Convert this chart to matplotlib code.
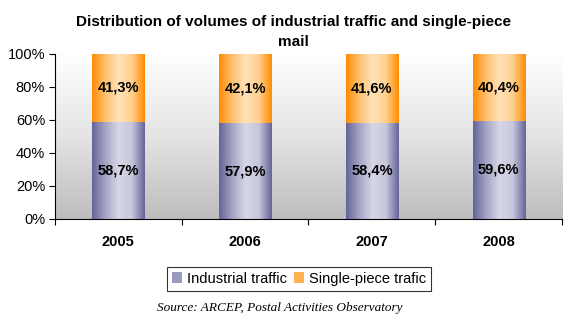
import numpy as np
import matplotlib
matplotlib.use("Agg")
import matplotlib.pyplot as plt
from matplotlib.colors import LinearSegmentedColormap
from matplotlib.patches import Patch

years = ["2005", "2006", "2007", "2008"]
industrial = [58.7, 57.9, 58.4, 59.6]
single_piece = [41.3, 42.1, 41.6, 40.4]
series_names = ["Industrial traffic", "Single-piece trafic"]

plt.rcParams['font.family'] = ['Liberation Sans', 'DejaVu Sans']

fig = plt.figure(figsize=(5.65, 3.21), dpi=100)
ax = fig.add_axes([0.097, 0.318, 0.898, 0.514])

x = np.arange(len(years))
ax.set_xlim(-0.5, len(years) - 0.5)
ax.set_ylim(0, 100)

# background gradient, white at top to grey at bottom
bg = LinearSegmentedColormap.from_list("bg", ["#bdbdbd", "#e4e4e4", "#ffffff"])
grad = np.linspace(0, 1, 256).reshape(-1, 1)
ax.imshow(grad, cmap=bg, extent=(-0.5, len(years) - 0.5, 0, 100),
          origin="lower", aspect="auto", zorder=0)

# cylinder-like horizontal gradients for the bars
ind_cmap = LinearSegmentedColormap.from_list(
    "ind", ["#64649a", "#a4a4c4", "#d6d6e6", "#c8c8dc", "#64649a"])
sp_cmap = LinearSegmentedColormap.from_list(
    "sp", ["#ff8c00", "#ffc070", "#ffe2b8", "#ffd090", "#ff8c00"])
hgrad = np.linspace(0, 1, 256).reshape(1, -1)

width = 0.41
b1 = ax.bar(x, industrial, width, color="none", zorder=2)
b2 = ax.bar(x, single_piece, width, bottom=industrial, color="none", zorder=2)

for bars, cmap in ((b1, ind_cmap), (b2, sp_cmap)):
    for p in bars:
        x0, y0 = p.get_x(), p.get_y()
        im = ax.imshow(hgrad, cmap=cmap, aspect="auto", zorder=2,
                       extent=(x0, x0 + p.get_width(), y0, y0 + p.get_height()))
        im.set_clip_path(p)

for i in range(len(years)):
    ax.text(x[i], industrial[i] / 2, f"{industrial[i]:.1f}%".replace(".", ","),
            ha="center", va="center", fontsize=10.5, fontweight="bold", zorder=3)
    ax.text(x[i], industrial[i] + single_piece[i] / 2,
            f"{single_piece[i]:.1f}%".replace(".", ","),
            ha="center", va="center", fontsize=10.5, fontweight="bold", zorder=3)

ax.set_xlim(-0.5, len(years) - 0.5)
ax.set_ylim(0, 100)
ax.set_yticks(np.arange(0, 101, 20))
ax.set_yticklabels([f"{v}%" for v in range(0, 101, 20)], fontsize=10.5)
ax.set_xticks(np.arange(-0.5, len(years), 1))
ax.set_xticklabels([])
ax.tick_params(axis="y", length=4, width=0.8, pad=3)
ax.tick_params(axis="x", length=4, width=0.8)
for i, yr in enumerate(years):
    ax.text(x[i], -14, yr, ha="center", va="center", fontsize=10.5,
            fontweight="bold")

for s in ("top", "right"):
    ax.spines[s].set_visible(False)
ax.spines["left"].set_linewidth(0.8)
ax.spines["bottom"].set_linewidth(0.8)

fig.text(0.519, 0.9, "Distribution of volumes of industrial traffic and single-piece\nmail",
         ha="center", va="center", fontsize=11, fontweight="bold", linespacing=1.5)

handles = [Patch(facecolor="#9a9ac0", edgecolor="none"),
           Patch(facecolor="#ffb050", edgecolor="none")]
leg = fig.legend(handles, series_names, loc="center", bbox_to_anchor=(0.529, 0.131),
                 ncol=2, fontsize=10.5, frameon=True, fancybox=False,
                 handlelength=0.7, handleheight=0.8, handletextpad=0.3,
                 columnspacing=0.5, borderpad=0.35)
leg.get_frame().set_edgecolor("black")
leg.get_frame().set_linewidth(0.8)

fig.text(0.496, 0.04, "Source: ARCEP, Postal Activities Observatory",
         ha="center", va="center", fontsize=9.5, style="italic",
         family=["Liberation Serif", "DejaVu Serif"])

fig.savefig("out.png", dpi=100)
